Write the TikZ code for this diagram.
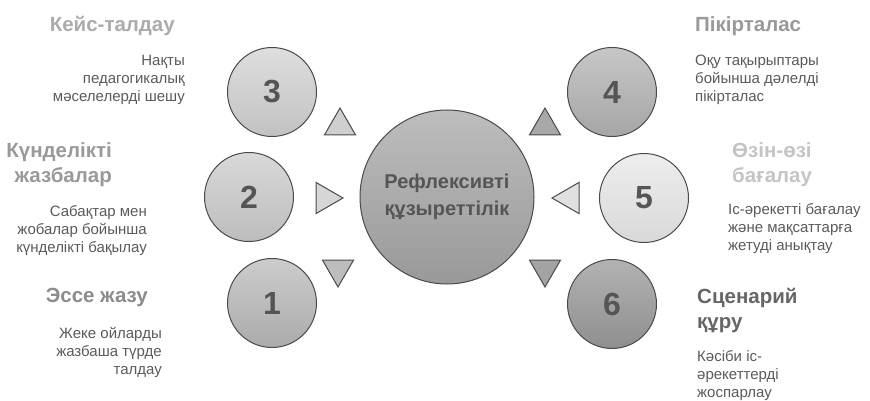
\documentclass[tikz,border=0pt]{standalone}
\usepackage{fontspec}
\setmainfont{Liberation Sans}
\usetikzlibrary{shapes.geometric}

\definecolor{rim}{HTML}{4A4A4A}
\definecolor{digit}{HTML}{555555}
\definecolor{notegray}{HTML}{5A5A5A}

\tikzset{
  num/.style={circle, draw=rim, line width=1pt, minimum size=89pt, inner sep=0pt,
    font=\fontsize{32}{32}\selectfont\bfseries, text=digit},
  hub/.style={circle, draw=rim, line width=1pt, minimum size=174pt, inner sep=0pt,
    align=center, font=\fontsize{20}{27}\selectfont\bfseries, text=digit,
    top color=hubtop, bottom color=hubbot},
  tri/.style={regular polygon, regular polygon sides=3, draw=rim, line width=1pt,
    minimum size=36pt, inner sep=0pt},
  head/.style={font=\fontsize{20.5}{25}\selectfont\bfseries, inner sep=0pt},
  note/.style={font=\fontsize{15}{18}\selectfont, text=notegray, inner sep=0pt},
}

\definecolor{hubtop}{HTML}{BDBDBD}
\definecolor{hubbot}{HTML}{999999}

\begin{document}
\begin{tikzpicture}[x=1pt,y=-1pt]
  \useasboundingbox (0,0) rectangle (870,401);

  % Nodes
  \node[hub] (hub) at (447,197) {Рефлексивті\\құзыреттілік};

  \node[num, top color=black!13, bottom color=black!24] (n3) at (272,92) {3};
  \node[num, top color=black!15, bottom color=black!26] (n2) at (249,197) {2};
  \node[num, top color=black!20, bottom color=black!33] (n1) at (272,303) {1};
  \node[num, top color=black!22, bottom color=black!35] (n4) at (612,92) {4};
  \node[num, top color=black!7, bottom color=black!15] (n5) at (644,198) {5};
  \node[num, top color=black!30, bottom color=black!44] (n6) at (612,304) {6};

  % Triangles
  \node[tri, fill=black!19] (tri3) at (340,126) {};
  \node[tri, fill=black!16, shape border rotate=-90] (tri2) at (325,198) {};
  \node[tri, fill=black!26, shape border rotate=180] (tri1) at (338,269) {};
  \node[tri, fill=black!34] (tri4) at (545,126) {};
  \node[tri, fill=black!12, shape border rotate=90] (tri5) at (570,198) {};
  \node[tri, fill=black!36, shape border rotate=180] (tri6) at (545,269) {};

  % Texts, left
  \node[head, text=black!33, anchor=north east, align=right] (t3) at (175,16) {Кейс-талдау};
  \node[note, anchor=north east, align=right] (d3) at (185,55)
    {Нақты\\педагогикалық\\мәселелерді шешу};

  \node[head, text=black!40, anchor=north east, align=right] (t2) at (112,142)
    {Күнделікті\\жазбалар};
  \node[note, anchor=north east, align=right] (d2) at (147,205)
    {Сабақтар мен\\жобалар бойынша\\күнделікті бақылау};

  \node[head, text=black!45, anchor=north east, align=right] (t1) at (148,288) {Эссе жазу};
  \node[note, anchor=north east, align=right] (d1) at (162,327)
    {Жеке ойларды\\жазбаша түрде\\талдау};

  % Texts, right
  \node[head, text=black!40, anchor=north west, align=left] (t4) at (695,16) {Пікірталас};
  \node[note, anchor=north west, align=left] (d4) at (695,55)
    {Оқу тақырыптары\\бойынша дәлелді\\пікірталас};

  \node[head, text=black!23, anchor=north west, align=left] (t5) at (732,142)
    {Өзін-өзі\\бағалау};
  \node[note, anchor=north west, align=left] (d5) at (728,203)
    {Іс-әрекетті бағалау\\және мақсаттарға\\жетуді анықтау};

  \node[head, text=black!60, anchor=north west, align=left] (t6) at (697,288)
    {Сценарий\\құру};
  \node[note, anchor=north west, align=left] (d6) at (697,350)
    {Кәсіби іс-\\әрекеттерді\\жоспарлау};
\end{tikzpicture}
\end{document}
